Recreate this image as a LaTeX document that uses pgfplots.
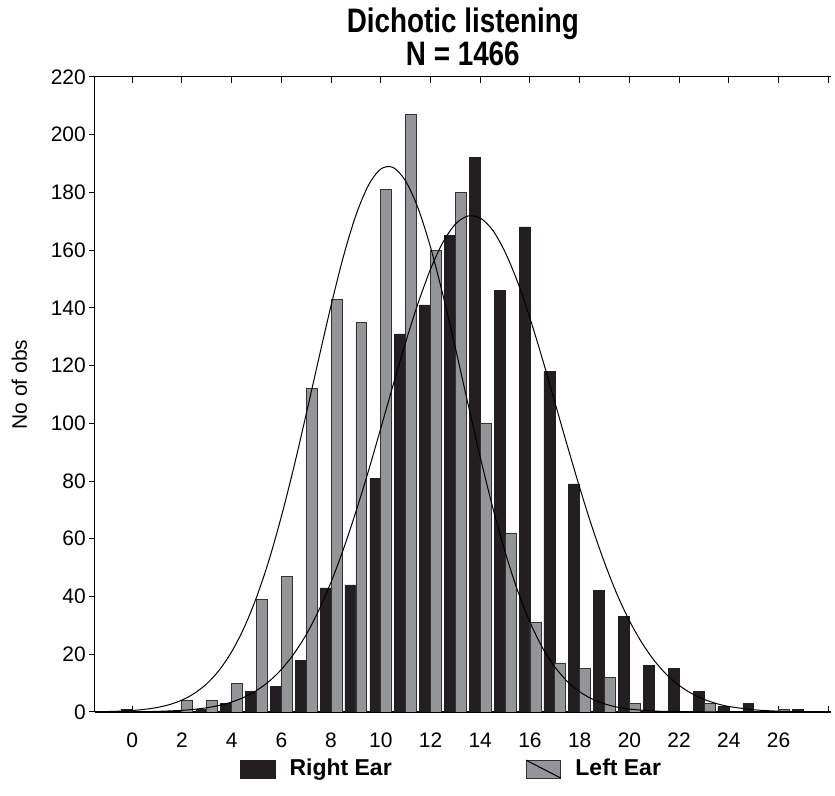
\documentclass[border=0pt]{standalone}
\usepackage{fontspec}
\setmainfont{Liberation Sans}
\usepackage{pgfplots}
\pgfplotsset{compat=1.18}

\definecolor{rightear}{HTML}{231F20}
\definecolor{leftear}{HTML}{939598}

\begin{document}
\begin{tikzpicture}
\begin{axis}[
    scale only axis,
    width=368.5pt,
    height=318pt,
    xmin=-1.5, xmax=28.1,
    ymin=0, ymax=220,
    axis x line=box,
    axis y line=left,
    axis line style={-, black, line width=0.6pt},
    xtick={0,2,...,28},
    xticklabels={0,2,4,6,8,10,12,14,16,18,20,22,24,26,{}},
    ytick={0,20,...,220},
    xtick align=inside,
    ytick align=outside,
    major tick length=3pt,
    tick style={black, line width=0.5pt},
    /pgf/number format/assume math mode=true,
    ticklabel style={font=\fontsize{10.5}{12}\selectfont},
    xticklabel style={yshift=-7pt},
    yticklabel style={xshift=2pt},
    ylabel={No of obs},
    ylabel style={font=\fontsize{10.5}{12}\selectfont, yshift=5pt, xshift=5pt},
    title={\scalebox{0.82}[1]{Dichotic listening}\\\scalebox{0.82}[1]{N = 1466}},
    title style={align=center, font=\bfseries\fontsize{17}{16.5}\selectfont, yshift=-4pt},
    legend columns=2,
    legend style={draw=none, fill=none, at={(axis description cs:0.486,-0.09)}, anchor=center,
        font=\bfseries\fontsize{11.5}{13}\selectfont,
        /tikz/every odd column/.append style={column sep=5pt},
        /tikz/every even column/.append style={column sep=65pt}},
]

%% Right ear (black bars)
\addplot[ybar, bar width=0.44, bar shift=-0.22, fill=rightear, draw=rightear, line width=0.3pt,
    legend image code/.code={\fill[rightear] (0pt,-4.5pt) rectangle (17.5pt,4.5pt);}]
    coordinates {
        (0,1)(3,1)(4,3)(5,7)(6,9)(7,18)(8,43)(9,44)(10,81)(11,131)(12,141)
        (13,165)(14,192)(15,146)(16,168)(17,118)(18,79)(19,42)(20,33)(21,16)
        (22,15)(23,7)(24,2)(25,3)(27,1)
    };
\addlegendentry{Right Ear}

%% Left ear (grey bars)
\addplot[ybar, bar width=0.44, bar shift=0.22, fill=leftear, draw=black!80, line width=0.4pt,
    legend image code/.code={
        \draw[fill=leftear, draw=black!80, line width=0.5pt] (0pt,-4.5pt) rectangle (17.5pt,4.5pt);
        \draw[black, line width=0.5pt] (0pt,4.5pt) -- (17.5pt,-4.5pt);}]
    coordinates {
        (2,4)(3,4)(4,10)(5,39)(6,47)(7,112)(8,143)(9,135)(10,181)(11,207)
        (12,160)(13,180)(14,100)(15,62)(16,31)(17,17)(18,15)(19,12)(20,3)
        (23,3)(26,1)
    };
\addlegendentry{Left Ear}

%% fitted normal curve, left ear
\addplot[black, line width=0.5pt, smooth, forget plot]
    coordinates {
        (-1.5,0.08)(-1,0.16)(-0.5,0.29)(0,0.52)(0.5,0.91)(1,1.55)(1.5,2.56)
        (2,4.12)(2.5,6.44)(3,9.79)(3.5,14.48)(4,20.84)(4.5,29.17)(5,39.7)
        (5.5,52.5)(6,67.7)(6.5,84.7)(7,103.2)(7.5,122.2)(8,140.8)(8.5,157.9)
        (9,172.1)(9.5,182.4)(10,188.1)(10.5,188.6)(11,183.9)(11.5,174.5)
        (12,161.0)(12.5,144.4)(13,126.1)(13.5,107.0)(14,88.3)(14.5,70.9)
        (15,55.4)(15.5,42.1)(16,31.1)(16.5,22.3)(17,15.6)(17.5,10.6)(18,7.0)
        (18.5,4.5)(19,2.82)(19.5,1.71)(20,1.01)(21,0.33)(22,0.09)(23,0.02)
        (24,0)(28,0)
    };

%% fitted normal curve, right ear
\addplot[black, line width=0.5pt, smooth, forget plot]
    coordinates {
        (-1.5,0.01)(0,0.07)(1,0.21)(2,0.57)(2.5,0.93)(3,1.47)(3.5,2.27)
        (4,3.44)(4.5,5.1)(5,7.42)(5.5,10.56)(6,14.72)(6.5,20.1)(7,26.8)
        (7.5,35.1)(8,45.0)(8.5,56.5)(9,69.4)(9.5,83.4)(10,98.3)(10.5,113.4)
        (11,128.1)(11.5,141.6)(12,153.4)(12.5,162.7)(13,169.0)(13.5,171.8)
        (14,171.1)(14.5,166.9)(15,159.3)(15.5,149.0)(16,136.4)(16.5,122.3)
        (17,107.3)(17.5,92.3)(18,77.7)(18.5,64.0)(19,51.7)(19.5,40.8)
        (20,31.6)(20.5,24.0)(21,17.8)(21.5,12.9)(22,9.19)(22.5,6.40)
        (23,4.37)(23.5,2.92)(24,1.91)(25,0.77)(26,0.28)(27,0.10)(28,0.03)
    };

\end{axis}
%% page frame with the reference's margins
\path ([shift={(-47.5pt,-42pt)}]current axis.south west)
    rectangle ([shift={(1.5pt,38.5pt)}]current axis.north east);
\end{tikzpicture}
\end{document}
